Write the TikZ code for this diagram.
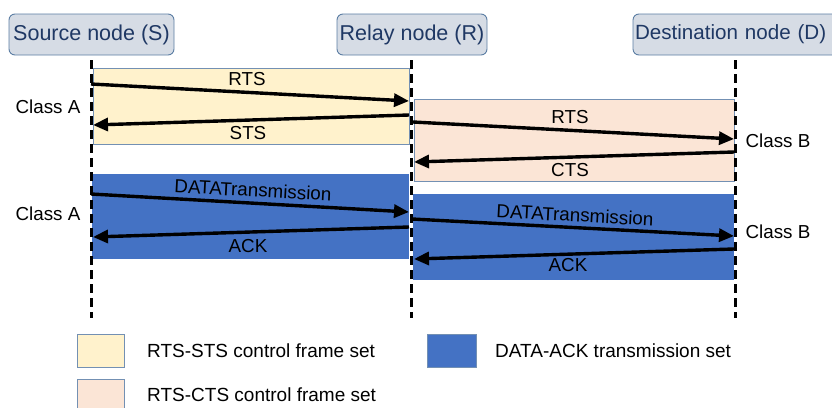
\documentclass[tikz,border=0pt]{standalone}
\usepackage{fontspec}
\setmainfont{Liberation Sans}
\usetikzlibrary{arrows.meta}
\definecolor{hdrfill}{HTML}{D6DCE5}
\definecolor{hdrline}{HTML}{5B7DA3}
\definecolor{hdrtext}{HTML}{1F3864}
\definecolor{yelfill}{HTML}{FFF2CC}
\definecolor{pinkfill}{HTML}{FBE5D6}
\definecolor{bluefill}{HTML}{4472C4}
\definecolor{boxline}{HTML}{7390B3}
\tikzset{
  hdr/.style={draw=hdrline, line width=0.9pt, fill=hdrfill, rounded corners=6pt,
    inner sep=0pt, minimum height=41pt, text=hdrtext, font=\fontsize{21.5pt}{24pt}\selectfont},
  life/.style={line width=3pt, dash pattern=on 9pt off 5pt},
  yelbox/.style={draw=boxline, line width=0.9pt, fill=yelfill},
  pinkbox/.style={draw=boxline, line width=0.9pt, fill=pinkfill},
  bluebox/.style={fill=bluefill},
  msg/.style={line width=3.4pt, -{Triangle[length=15pt,width=13pt]}},
  lab/.style={inner sep=0pt, font=\fontsize{18.8pt}{21pt}\selectfont},
  leg/.style={inner sep=0pt, anchor=west, font=\fontsize{19pt}{21pt}\selectfont},
}
\begin{document}
\begin{tikzpicture}[x=1pt,y=-1pt]
\useasboundingbox (0,0) rectangle (832,407);
\clip (0,0) rectangle (832,407);

% headers
\node[hdr, minimum width=165pt] (S) at (91.5,34.5) {Source node (S)};
\node[hdr, minimum width=150pt] (R) at (412,34.5) {Relay node (R)};
\node[hdr, minimum width=205pt, text width=203pt, align=left,
      font=\fontsize{20.6pt}{24pt}\selectfont] (D) at (735.5,34.5) {\hspace*{1pt}Destination node (D)};

% boxes
\draw[yelbox] (93,68) rectangle (409,144);
\draw[pinkbox] (414,99) rectangle (734,181);
\fill[bluebox] (92,174) rectangle (409,259);
\fill[bluebox] (413,194) rectangle (734,280);

% lifelines
\coordinate (Stop) at (91,60);   \coordinate (Sbot) at (91,318);
\coordinate (Rtop) at (411,60);  \coordinate (Rbot) at (411,318);
\coordinate (Dtop) at (735,60);  \coordinate (Dbot) at (735,318);
\draw[life] (Stop) -- (Sbot);
\draw[life] (Rtop) -- (Rbot);
\draw[life] (Dtop) -- (Dbot);

% message endpoints
\coordinate (a1) at (91,84);   \coordinate (a2) at (409,101);
\coordinate (b1) at (409,115); \coordinate (b2) at (93,125);
\coordinate (c1) at (413,122); \coordinate (c2) at (734,139);
\coordinate (d1) at (734,152); \coordinate (d2) at (414,162);
\coordinate (e1) at (91,194);  \coordinate (e2) at (409,212);
\coordinate (f1) at (409,227); \coordinate (f2) at (93,237);
\coordinate (g1) at (412,219); \coordinate (g2) at (734,236);
\coordinate (h1) at (734,249); \coordinate (h2) at (414,259);

\draw[msg] (a1) -- (a2);
\draw[msg] (b1) -- (b2);
\draw[msg] (c1) -- (c2);
\draw[msg] (d1) -- (d2);
\draw[msg] (e1) -- (e2);
\draw[msg] (f1) -- (f2);
\draw[msg] (g1) -- (g2);
\draw[msg] (h1) -- (h2);

% labels
\node[lab] (l1) at (247,79) {RTS};
\node[lab] (l2) at (248,133) {STS};
\node[lab] (l3) at (570,117) {RTS};
\node[lab] (l4) at (570,170) {CTS};
\node[lab, rotate=-3] (l5) at (253,190) {DATATransmission};
\node[lab] (l6) at (248,246) {ACK};
\node[lab, rotate=-3] (l7) at (575,215) {DATATransmission};
\node[lab] (l8) at (568,265) {ACK};
\node[lab] (ca1) at (48,107) {Class A};
\node[lab] (ca2) at (48,214) {Class A};
\node[lab] (cb1) at (778,141) {Class B};
\node[lab] (cb2) at (778,232) {Class B};

% legend
\draw[yelbox] (77,334) rectangle (124,367);
\node[leg] (t1) at (147,351) {RTS-STS control frame set};
\fill[bluebox] (427,334) rectangle (476,367);
\draw[boxline, line width=0.6pt] (427,334) rectangle (476,367);
\node[leg] (t2) at (495,351) {DATA-ACK transmission set};
\draw[pinkbox] (77,379) rectangle (124,412);
\node[leg] (t3) at (147,395) {RTS-CTS control frame set};
\end{tikzpicture}
\end{document}
